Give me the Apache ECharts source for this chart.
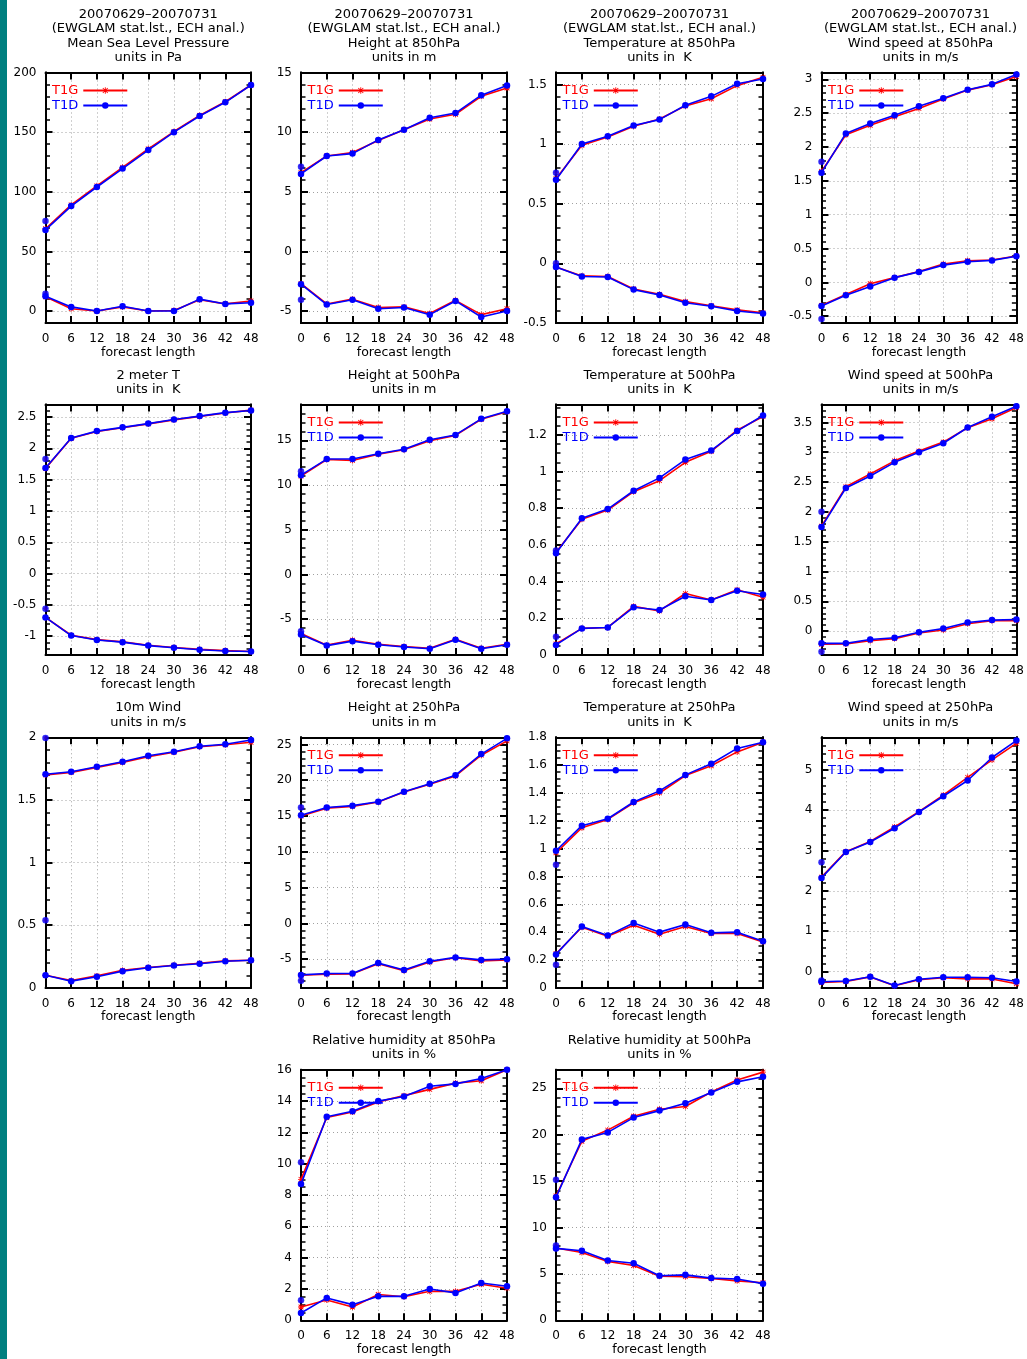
<!DOCTYPE html>
<html>
<head>
<meta charset="utf-8">
<script src="https://cdn.jsdelivr.net/npm/echarts@6/dist/echarts.min.js"></script>
<style>
html, body { margin: 0; padding: 0; background: #fff; }
#chart { width: 1027px; height: 1359px; }
</style>
</head>
<body>
<div id="chart"></div>
<script>
// Forecast lead times (hours) shared by every panel
const leadHours = [0, 6, 12, 18, 24, 30, 36, 42, 48];

// Mean sea level pressure (Pa)
const mslpRmsT1G  = [69, 89, 105, 120.5, 136, 150.5, 164, 175.5, 189.5];
const mslpRmsT1D  = [68, 88, 104, 119.5, 135, 150, 163.5, 175, 189.5];
const mslpBiasT1G = [12, 2, 0, 3.5, 0, 0.5, 9.5, 6, 8.5];
const mslpBiasT1D = [12.5, 3.5, 0, 4, 0, 0, 10, 6, 7];
const mslpStep0   = [75.5, 14.5];
const mslpYTicks  = [0, 50, 100, 150, 200];

// Height at 850hPa (m)
const h850RmsT1G  = [6.6, 8.0, 8.3, 9.3, 10.2, 11.1, 11.5, 13.0, 13.7];
const h850RmsT1D  = [6.5, 8.0, 8.2, 9.35, 10.2, 11.2, 11.6, 13.1, 13.9];
const h850BiasT1G = [-2.7, -4.4, -4.0, -4.7, -4.65, -5.2, -4.1, -5.3, -4.8];
const h850BiasT1D = [-2.75, -4.45, -4.05, -4.8, -4.7, -5.3, -4.15, -5.5, -5.0];
const h850Step0   = [7.1, -4.05];
const h850YTicks  = [-5, 0, 5, 10, 15];

// Temperature at 850hPa (K)
const t850RmsT1G  = [0.71, 0.99, 1.06, 1.15, 1.21, 1.32, 1.38, 1.49, 1.56];
const t850RmsT1D  = [0.70, 1.0, 1.065, 1.155, 1.205, 1.325, 1.40, 1.505, 1.545];
const t850BiasT1G = [-0.03, -0.105, -0.11, -0.215, -0.26, -0.32, -0.355, -0.39, -0.415];
const t850BiasT1D = [-0.03, -0.11, -0.115, -0.22, -0.265, -0.33, -0.36, -0.40, -0.42];
const t850Step0   = [0.76, 0.0];
const t850YTicks  = [-0.5, 0, 0.5, 1, 1.5];

// Wind speed at 850hPa (m/s)
const ws850RmsT1G  = [1.64, 2.18, 2.32, 2.445, 2.57, 2.71, 2.84, 2.92, 3.04];
const ws850RmsT1D  = [1.62, 2.2, 2.345, 2.47, 2.6, 2.72, 2.845, 2.925, 3.07];
const ws850BiasT1G = [-0.34, -0.18, -0.02, 0.07, 0.16, 0.27, 0.32, 0.33, 0.39];
const ws850BiasT1D = [-0.35, -0.19, -0.06, 0.07, 0.155, 0.255, 0.305, 0.325, 0.385];
const ws850Step0   = [1.78, -0.54];
const ws850YTicks  = [-0.5, 0, 0.5, 1, 1.5, 2, 2.5, 3];

// 2 meter temperature (K)
const t2mRmsT1G  = [1.68, 2.16, 2.27, 2.33, 2.39, 2.455, 2.51, 2.565, 2.61];
const t2mRmsT1D  = [1.685, 2.165, 2.275, 2.335, 2.395, 2.46, 2.515, 2.57, 2.605];
const t2mBiasT1G = [-0.70, -0.985, -1.055, -1.09, -1.145, -1.18, -1.21, -1.23, -1.245];
const t2mBiasT1D = [-0.70, -0.99, -1.06, -1.095, -1.15, -1.185, -1.215, -1.235, -1.245];
const t2mStep0   = [1.83, -0.56];
const t2mYTicks  = [-1, -0.5, 0, 0.5, 1, 1.5, 2, 2.5];

// Height at 500hPa (m)
const h500RmsT1G  = [11.0, 12.85, 12.75, 13.45, 13.95, 14.95, 15.55, 17.35, 18.2];
const h500RmsT1D  = [11.1, 12.9, 12.9, 13.5, 14.0, 15.05, 15.6, 17.4, 18.25];
const h500BiasT1G = [-6.6, -7.9, -7.35, -7.8, -8.05, -8.25, -7.25, -8.25, -7.8];
const h500BiasT1D = [-6.7, -7.95, -7.45, -7.85, -8.1, -8.3, -7.3, -8.3, -7.85];
const h500Step0   = [11.55, -6.35];
const h500YTicks  = [-5, 0, 5, 10, 15];

// Temperature at 500hPa (K)
const t500RmsT1G  = [0.56, 0.74, 0.79, 0.89, 0.95, 1.05, 1.11, 1.225, 1.30];
const t500RmsT1D  = [0.555, 0.745, 0.795, 0.895, 0.965, 1.065, 1.115, 1.22, 1.305];
const t500BiasT1G = [0.06, 0.145, 0.15, 0.265, 0.24, 0.335, 0.30, 0.355, 0.315];
const t500BiasT1D = [0.055, 0.145, 0.15, 0.26, 0.245, 0.32, 0.30, 0.35, 0.33];
const t500Step0   = [0.57, 0.10];
const t500YTicks  = [0, 0.2, 0.4, 0.6, 0.8, 1, 1.2];

// Wind speed at 500hPa (m/s)
const ws500RmsT1G  = [1.76, 2.42, 2.635, 2.855, 3.02, 3.17, 3.41, 3.56, 3.75];
const ws500RmsT1D  = [1.745, 2.40, 2.60, 2.83, 3.0, 3.15, 3.415, 3.595, 3.77];
const ws500BiasT1G = [-0.22, -0.215, -0.16, -0.125, -0.03, 0.02, 0.125, 0.175, 0.175];
const ws500BiasT1D = [-0.205, -0.205, -0.14, -0.11, -0.02, 0.045, 0.145, 0.185, 0.195];
const ws500Step0   = [2.0, -0.345];
const ws500YTicks  = [0, 0.5, 1, 1.5, 2, 2.5, 3, 3.5];

// 10m wind (m/s)
const ws10mRmsT1G  = [1.70, 1.72, 1.76, 1.80, 1.845, 1.88, 1.925, 1.94, 1.96];
const ws10mRmsT1D  = [1.705, 1.725, 1.765, 1.805, 1.853, 1.885, 1.928, 1.944, 1.979];
const ws10mBiasT1G = [0.10, 0.058, 0.095, 0.14, 0.162, 0.18, 0.196, 0.215, 0.22];
const ws10mBiasT1D = [0.10, 0.053, 0.088, 0.133, 0.16, 0.178, 0.192, 0.212, 0.22];
const ws10mStep0   = [1.995, 0.54];
const ws10mYTicks  = [0, 0.5, 1, 1.5, 2];

// Height at 250hPa (m)
const h250RmsT1G  = [15.0, 16.1, 16.35, 16.95, 18.35, 19.45, 20.6, 23.5, 25.5];
const h250RmsT1D  = [15.1, 16.2, 16.45, 17.0, 18.4, 19.5, 20.7, 23.65, 25.85];
const h250BiasT1G = [-7.25, -7.1, -7.05, -5.65, -6.6, -5.4, -4.8, -5.25, -5.1];
const h250BiasT1D = [-7.2, -7.0, -7.0, -5.55, -6.5, -5.3, -4.75, -5.1, -5.0];
const h250Step0   = [16.2, -8.0];
const h250YTicks  = [-5, 0, 5, 10, 15, 20, 25];

// Temperature at 250hPa (K)
const t250RmsT1G  = [0.97, 1.15, 1.21, 1.33, 1.40, 1.525, 1.595, 1.695, 1.765];
const t250RmsT1D  = [0.985, 1.165, 1.215, 1.335, 1.415, 1.53, 1.61, 1.72, 1.765];
const t250BiasT1G = [0.245, 0.435, 0.37, 0.45, 0.385, 0.44, 0.39, 0.39, 0.33];
const t250BiasT1D = [0.24, 0.44, 0.375, 0.465, 0.40, 0.455, 0.395, 0.40, 0.335];
const t250Step0   = [0.885, 0.165];
const t250YTicks  = [0, 0.2, 0.4, 0.6, 0.8, 1, 1.2, 1.4, 1.6, 1.8];

// Wind speed at 250hPa (m/s)
const ws250RmsT1G  = [2.34, 2.97, 3.22, 3.58, 3.96, 4.37, 4.81, 5.24, 5.65];
const ws250RmsT1D  = [2.32, 2.96, 3.21, 3.55, 3.95, 4.34, 4.73, 5.30, 5.72];
const ws250BiasT1G = [-0.27, -0.245, -0.13, -0.35, -0.2, -0.15, -0.18, -0.18, -0.30];
const ws250BiasT1D = [-0.25, -0.23, -0.125, -0.345, -0.19, -0.14, -0.14, -0.15, -0.245];
const ws250Step0   = [2.71, -0.22];
const ws250YTicks  = [0, 1, 2, 3, 4, 5];

// Relative humidity at 850hPa (%)
const rh850RmsT1G  = [9.0, 12.95, 13.3, 13.95, 14.35, 14.75, 15.15, 15.3, 16.0];
const rh850RmsT1D  = [8.7, 13.0, 13.35, 14.0, 14.3, 14.95, 15.1, 15.45, 16.0];
const rh850BiasT1G = [0.85, 1.3, 0.85, 1.65, 1.5, 1.85, 1.85, 2.3, 2.05];
const rh850BiasT1D = [0.47, 1.43, 1.0, 1.53, 1.53, 2.0, 1.75, 2.38, 2.17];
const rh850Step0   = [10.1, 1.28];
const rh850YTicks  = [0, 2, 4, 6, 8, 10, 12, 14, 16];

// Relative humidity at 500hPa (%)
const rh500RmsT1G  = [13.4, 19.3, 20.5, 22.0, 22.75, 23.05, 24.6, 25.9, 26.75];
const rh500RmsT1D  = [13.25, 19.5, 20.25, 21.85, 22.6, 23.4, 24.55, 25.7, 26.25];
const rh500BiasT1G = [7.8, 7.3, 6.35, 5.9, 4.75, 4.7, 4.5, 4.25, 4.05];
const rh500BiasT1D = [7.75, 7.5, 6.45, 6.15, 4.8, 4.9, 4.55, 4.45, 3.95];
const rh500Step0   = [15.15, 8.05];
const rh500YTicks  = [0, 5, 10, 15, 20, 25];

const periodLines = ['20070629\u201320070731', '(EWGLAM stat.lst., ECH anal.)'];

// Panel table: which arrays go where, plus axis extents
const panels = [
  { row: 0, col: 0, title: [...periodLines, 'Mean Sea Level Pressure', 'units in Pa'], rg: mslpRmsT1G, rd: mslpRmsT1D, bg: mslpBiasT1G, bd: mslpBiasT1D, s0: mslpStep0, ticks: mslpYTicks, min: -10, max: 200, minor: 10, legend: true },
  { row: 0, col: 1, title: [...periodLines, 'Height at 850hPa', 'units in m'], rg: h850RmsT1G, rd: h850RmsT1D, bg: h850BiasT1G, bd: h850BiasT1D, s0: h850Step0, ticks: h850YTicks, min: -6, max: 15, minor: 1, legend: true },
  { row: 0, col: 2, title: [...periodLines, 'Temperature at 850hPa', 'units in  K'], rg: t850RmsT1G, rd: t850RmsT1D, bg: t850BiasT1G, bd: t850BiasT1D, s0: t850Step0, ticks: t850YTicks, min: -0.5, max: 1.6, minor: 0.1, legend: true },
  { row: 0, col: 3, title: [...periodLines, 'Wind speed at 850hPa', 'units in m/s'], rg: ws850RmsT1G, rd: ws850RmsT1D, bg: ws850BiasT1G, bd: ws850BiasT1D, s0: ws850Step0, ticks: ws850YTicks, min: -0.6, max: 3.1, minor: 0.1, legend: true },
  { row: 1, col: 0, title: ['2 meter T', 'units in  K'], rg: t2mRmsT1G, rd: t2mRmsT1D, bg: t2mBiasT1G, bd: t2mBiasT1D, s0: t2mStep0, ticks: t2mYTicks, min: -1.3, max: 2.7, minor: 0.1, legend: false },
  { row: 1, col: 1, title: ['Height at 500hPa', 'units in m'], rg: h500RmsT1G, rd: h500RmsT1D, bg: h500BiasT1G, bd: h500BiasT1D, s0: h500Step0, ticks: h500YTicks, min: -9, max: 19, minor: 1, legend: true },
  { row: 1, col: 2, title: ['Temperature at 500hPa', 'units in  K'], rg: t500RmsT1G, rd: t500RmsT1D, bg: t500BiasT1G, bd: t500BiasT1D, s0: t500Step0, ticks: t500YTicks, min: 0, max: 1.365, minor: 0.05, legend: true },
  { row: 1, col: 3, title: ['Wind speed at 500hPa', 'units in m/s'], rg: ws500RmsT1G, rd: ws500RmsT1D, bg: ws500BiasT1G, bd: ws500BiasT1D, s0: ws500Step0, ticks: ws500YTicks, min: -0.4, max: 3.8, minor: 0.1, legend: true },
  { row: 2, col: 0, title: ['10m Wind', 'units in m/s'], rg: ws10mRmsT1G, rd: ws10mRmsT1D, bg: ws10mBiasT1G, bd: ws10mBiasT1D, s0: ws10mStep0, ticks: ws10mYTicks, min: 0, max: 2, minor: 0.1, legend: false },
  { row: 2, col: 1, title: ['Height at 250hPa', 'units in m'], rg: h250RmsT1G, rd: h250RmsT1D, bg: h250BiasT1G, bd: h250BiasT1D, s0: h250Step0, ticks: h250YTicks, min: -9, max: 26, minor: 1, legend: true },
  { row: 2, col: 2, title: ['Temperature at 250hPa', 'units in  K'], rg: t250RmsT1G, rd: t250RmsT1D, bg: t250BiasT1G, bd: t250BiasT1D, s0: t250Step0, ticks: t250YTicks, min: 0, max: 1.8, minor: 0.05, legend: true },
  { row: 2, col: 3, title: ['Wind speed at 250hPa', 'units in m/s'], rg: ws250RmsT1G, rd: ws250RmsT1D, bg: ws250BiasT1G, bd: ws250BiasT1D, s0: ws250Step0, ticks: ws250YTicks, min: -0.4, max: 5.8, minor: 0.2, legend: true },
  { row: 3, col: 1, title: ['Relative humidity at 850hPa', 'units in %'], rg: rh850RmsT1G, rd: rh850RmsT1D, bg: rh850BiasT1G, bd: rh850BiasT1D, s0: rh850Step0, ticks: rh850YTicks, min: 0, max: 16, minor: 0.5, legend: true },
  { row: 3, col: 2, title: ['Relative humidity at 500hPa', 'units in %'], rg: rh500RmsT1G, rd: rh500RmsT1D, bg: rh500BiasT1G, bd: rh500BiasT1D, s0: rh500Step0, ticks: rh500YTicks, min: 0, max: 27, minor: 1, legend: true }
];

// Page layout of the plot frames
const colLeft = [45.5, 301, 556, 821.5];
const colWidth = [205.5, 206, 207, 198];
const rowTop = [72.5, 404.5, 737.3, 1069.8];
const plotH = 250.5;

const FONT = 'DejaVu Sans';
const RED = '#ff0000';
const BLUE = '#0000ff';
const GRID_GRAY = '#a0a0a0';
// small asterisk marker for T1G
const ASTERISK = 'path://M4.3,0L5.7,0L5.7,10L4.3,10ZM0,4.3L10,4.3L10,5.7L0,5.7ZM0.6,1.6L1.6,0.6L9.4,8.4L8.4,9.4ZM8.4,0.6L9.4,1.6L1.6,9.4L0.6,8.4Z';

const fmt = v => String(Math.round(v * 1000) / 1000);

const option = {
  animation: false,
  backgroundColor: '#ffffff',
  textStyle: { fontFamily: FONT },
  grid: [], xAxis: [], yAxis: [], series: [], legend: [], title: [],
  graphic: [{
    type: 'rect', z: -10, silent: true,
    shape: { x: 0, y: 0, width: 7, height: 1359 },
    style: { fill: '#007f7f' }
  }]
};

const frameLine = { show: true, onZero: false, lineStyle: { color: '#000', width: 2 } };
const majorTick = { show: true, inside: true, length: 7, lineStyle: { color: '#000', width: 2 } };
const minorTick = { show: true, inside: true, length: 4.5, lineStyle: { color: '#000', width: 1.5 } };
const dotted = { show: true, lineStyle: { color: GRID_GRAY, width: 1, type: [1, 3] } };
const labelStyle = { color: '#000', fontSize: 12, fontFamily: FONT };

function curve(name, color, symbol, size, xi, yi, values, z) {
  return {
    type: 'line', name, xAxisIndex: xi, yAxisIndex: yi,
    data: leadHours.map((h, k) => [h, values[k]]),
    symbol, symbolSize: size, showSymbol: true, clip: false, z,
    lineStyle: { color, width: 1.6 }, itemStyle: { color },
    emphasis: { disabled: true }, silent: true
  };
}
function step0Points(name, color, symbol, size, xi, yi, values, z) {
  return {
    type: 'scatter', name, xAxisIndex: xi, yAxisIndex: yi,
    data: values.map(v => [leadHours[0], v]),
    symbol, symbolSize: size, clip: false, z,
    itemStyle: { color }, emphasis: { disabled: true }, silent: true
  };
}

panels.forEach((p, i) => {
  const left = colLeft[p.col], top = rowTop[p.row], width = colWidth[p.col];
  option.grid.push({ left, top, width, height: plotH });

  const xi = option.xAxis.length;
  option.xAxis.push({
    type: 'value', gridIndex: i, position: 'bottom', min: 0, max: 48, interval: 6,
    axisLine: frameLine, axisTick: majorTick,
    axisLabel: Object.assign({ margin: 10 }, labelStyle),
    splitLine: dotted,
    name: 'forecast length', nameLocation: 'middle', nameGap: 22,
    nameTextStyle: { color: '#000', fontSize: 12.5, fontFamily: FONT }
  });
  option.xAxis.push({
    type: 'value', gridIndex: i, position: 'top', min: 0, max: 48, interval: 6,
    axisLine: frameLine, axisTick: majorTick, axisLabel: { show: false }, splitLine: { show: false }
  });

  const yi = option.yAxis.length;
  // labelled left axis and mirrored right axis, major ticks only
  ['left', 'right'].forEach(pos => {
    const isLeft = pos === 'left';
    option.yAxis.push({
      type: 'value', gridIndex: i, position: pos, min: p.min, max: p.max,
      axisLine: frameLine,
      axisTick: Object.assign({ customValues: p.ticks }, majorTick),
      axisLabel: isLeft
        ? Object.assign({ customValues: p.ticks, margin: 9, formatter: fmt }, labelStyle)
        : { show: false },
      splitLine: isLeft ? dotted : { show: false }
    });
  });
  // companion axes stepping by the minor interval, for the short ticks
  ['left', 'right'].forEach(pos => {
    option.yAxis.push({
      type: 'value', gridIndex: i, position: pos, min: p.min, max: p.max, interval: p.minor,
      axisLine: frameLine, axisTick: minorTick,
      axisLabel: { show: false }, splitLine: { show: false }
    });
  });

  option.series.push(
    curve('T1G', RED, ASTERISK, 6, xi, yi, p.rg, 3),
    curve('T1G', RED, ASTERISK, 6, xi, yi, p.bg, 3),
    step0Points('T1G', RED, ASTERISK, 5, xi, yi, p.s0, 3),
    curve('T1D', BLUE, 'circle', 6.5, xi, yi, p.rd, 4),
    curve('T1D', BLUE, 'circle', 6.5, xi, yi, p.bd, 4),
    step0Points('T1D', BLUE, 'circle', 6.5, xi, yi, p.s0, 4)
  );

  if (p.legend) {
    option.legend.push({
      orient: 'vertical', align: 'right', left: left + 6.5, top: top + 11.5,
      padding: 0, itemGap: 2, itemWidth: 44, itemHeight: 8, selectedMode: false,
      textStyle: { fontSize: 13, fontFamily: FONT },
      data: [
        { name: 'T1G', textStyle: { color: RED } },
        { name: 'T1D', textStyle: { color: BLUE } }
      ]
    });
  }

  const n = p.title.length;
  option.title.push({
    text: p.title.join('\n'),
    left: left + width / 2,
    top: top - 14.8 - (n - 1) * 14.4 - 7.2,
    textAlign: 'center', padding: 0,
    textStyle: { fontSize: 13, fontWeight: 'normal', color: '#000', fontFamily: FONT, lineHeight: 14.4 }
  });
});

const chart = echarts.init(document.getElementById('chart'), null, { renderer: 'canvas' });
chart.setOption(option);
</script>
</body>
</html>
